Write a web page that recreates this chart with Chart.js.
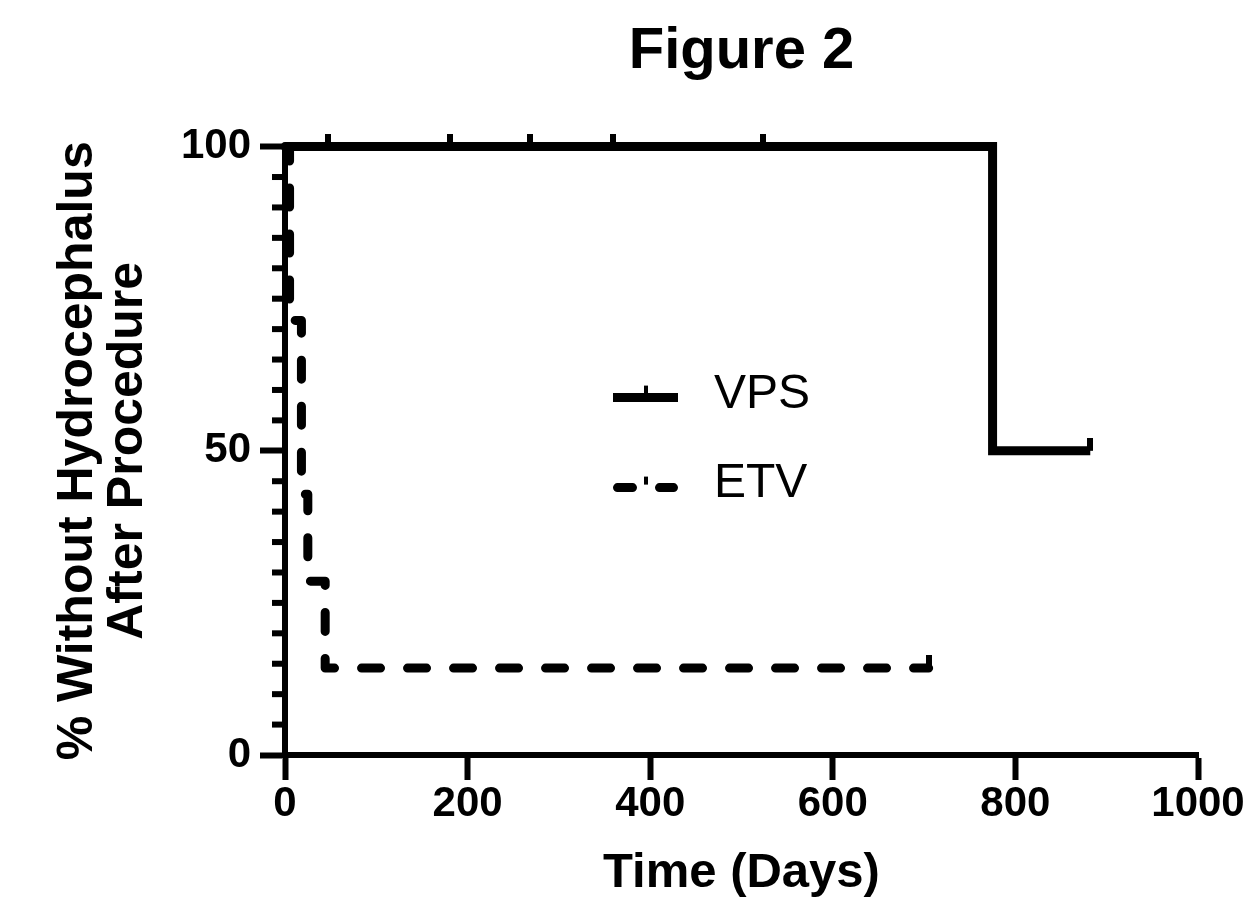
<!DOCTYPE html>
<html>
<head>
<meta charset="utf-8">
<script src="https://cdn.jsdelivr.net/npm/chart.js@4"></script>
<style>
  html, body { margin: 0; padding: 0; background: #ffffff; }
  #wrap { width: 1248px; height: 911px; }
</style>
</head>
<body>
<div id="wrap"><canvas id="c" width="1248" height="911"></canvas></div>
<script>
// ---- data ----
const chartTitle = 'Figure 2';
const xTitle = 'Time (Days)';
const yTitle = ['% Without Hydrocephalus', 'After Procedure'];
const seriesNames = ['VPS', 'ETV'];

const vpsTimes = [0, 775, 882];
const vpsSurvival = [100, 50, 50];
const vpsCensorTimes = [47, 181, 268, 359, 524, 882];
const vpsCensorSurvival = [100, 100, 100, 100, 100, 50];

const etvTimes = [0, 5, 18, 25, 44, 705];
const etvSurvival = [100, 71.43, 42.86, 28.57, 14.29, 14.29];
const etvCensorTimes = [705];
const etvCensorSurvival = [14.29];

const xTickValues = [0, 200, 400, 600, 800, 1000];
const yTickValues = [0, 50, 100];

// ---- helpers ----
const FONT = "'Liberation Sans', Arial, sans-serif";
const pts = (xs, ys) => xs.map((x, i) => ({ x: x, y: ys[i] }));

// censor tick: vertical bar rising above the point
const censorMark = (function () {
  const c = document.createElement('canvas');
  c.width = 6; c.height = 26;
  const g = c.getContext('2d');
  g.fillStyle = '#000';
  g.fillRect(0, 0, 6, 13);
  return c;
})();

const minorTicks = {
  id: 'minorTicks',
  afterDraw(chart) {
    const s = chart.scales.y;
    const ctx = chart.ctx;
    ctx.save();
    ctx.fillStyle = '#000';
    for (let v = s.min + 5; v < s.max; v += 5) {
      if (v % 50 === 0) continue;
      const y = s.getPixelForValue(v);
      ctx.fillRect(s.right - 13, y - 3, 13, 6);
    }
    ctx.restore();
  }
};

const kmLegend = {
  id: 'kmLegend',
  afterDraw(chart) {
    const ctx = chart.ctx;
    const a = chart.chartArea;
    const rows = chart.data.datasets.filter(d => d.legendRow !== undefined);
    ctx.save();
    rows.forEach(ds => {
      const cy = a.top + (ds.legendRow === 0 ? 251 : 341);
      const x0 = a.left + 328, x1 = a.left + 393;
      ctx.strokeStyle = ds.borderColor;
      ctx.lineWidth = ds.borderWidth;
      if (ds.borderDash && ds.borderDash.length) {
        ctx.lineCap = 'round';
        ctx.setLineDash([15, 27]);
        ctx.beginPath();
        ctx.moveTo(x0 + 4.5, cy);
        ctx.lineTo(x1 - 4.5, cy);
        ctx.stroke();
        ctx.setLineDash([]);
        ctx.fillStyle = ds.borderColor;
        ctx.fillRect((x0 + x1) / 2 - 1.5, cy - 11, 4, 8);
      } else {
        ctx.lineCap = 'butt';
        ctx.beginPath();
        ctx.moveTo(x0, cy);
        ctx.lineTo(x1, cy);
        ctx.stroke();
        ctx.fillStyle = ds.borderColor;
        ctx.fillRect((x0 + x1) / 2 - 1.5, cy - 12, 4, 10);
      }
      ctx.fillStyle = '#000';
      ctx.font = '48px ' + FONT;
      ctx.textAlign = 'left';
      ctx.textBaseline = 'alphabetic';
      ctx.fillText(ds.label, a.left + 429, cy + (ds.legendRow === 0 ? 10 : 9));
    });
    ctx.restore();
  }
};

new Chart(document.getElementById('c'), {
  type: 'line',
  data: {
    datasets: [
      {
        label: seriesNames[0], legendRow: 0,
        data: pts(vpsTimes, vpsSurvival),
        stepped: 'before',
        borderColor: '#000', borderWidth: 9,
        borderCapStyle: 'butt', borderJoinStyle: 'miter',
        pointRadius: 0, fill: false, clip: false, order: 2
      },
      {
        label: seriesNames[1], legendRow: 1,
        data: pts(etvTimes, etvSurvival),
        stepped: 'before',
        borderColor: '#000', borderWidth: 9,
        borderDash: [19, 27], borderCapStyle: 'round', borderJoinStyle: 'round',
        pointRadius: 0, fill: false, clip: false, order: 2
      },
      {
        label: seriesNames[0] + ' censored',
        type: 'scatter',
        data: pts(vpsCensorTimes, vpsCensorSurvival),
        pointStyle: censorMark, pointRadius: 6, showLine: false,
        clip: false, order: 1
      },
      {
        label: seriesNames[1] + ' censored',
        type: 'scatter',
        data: pts(etvCensorTimes, etvCensorSurvival),
        pointStyle: censorMark, pointRadius: 6, showLine: false,
        clip: false, order: 1
      }
    ]
  },
  options: {
    responsive: false,
    animation: false,
    devicePixelRatio: 1,
    layout: { padding: { left: 0, right: 50, top: 0, bottom: 0 } },
    plugins: {
      legend: { display: false },
      tooltip: { enabled: false },
      title: {
        display: true,
        text: chartTitle,
        fullSize: false,
        color: '#000',
        font: { family: FONT, size: 58, weight: 'bold', lineHeight: 1.2 },
        padding: { top: 17, bottom: 60 }
      }
    },
    scales: {
      x: {
        type: 'linear',
        min: 0, max: 1000,
        afterBuildTicks: s => { s.ticks = xTickValues.map(v => ({ value: v })); },
        afterFit: s => { s.height = 156; },
        border: { display: true, color: '#000', width: 6 },
        grid: { drawOnChartArea: false, drawTicks: true, tickLength: 25, tickWidth: 6, tickColor: '#000' },
        ticks: {
          color: '#000', padding: -1,
          font: { family: FONT, size: 42, weight: 'bold' },
          maxRotation: 0,
          callback: v => String(v)
        },
        title: {
          display: true, text: xTitle, color: '#000',
          font: { family: FONT, size: 49, weight: 'bold', lineHeight: 1.2 },
          padding: { top: 0, bottom: 8 }
        }
      },
      y: {
        type: 'linear',
        min: 0, max: 100,
        afterBuildTicks: s => { s.ticks = yTickValues.map(v => ({ value: v })); },
        afterFit: s => { s.width = 285; },
        border: { display: true, color: '#000', width: 6 },
        grid: { drawOnChartArea: false, drawTicks: true, tickLength: 25, tickWidth: 6, tickColor: '#000' },
        ticks: {
          color: '#000', padding: 9,
          font: { family: FONT, size: 42, weight: 'bold' },
          callback: v => String(v)
        },
        title: {
          display: true, text: yTitle, color: '#000',
          font: { family: FONT, size: 50, weight: 'bold', lineHeight: 1.0 },
          padding: { top: 53, bottom: 0 }
        }
      }
    }
  },
  plugins: [minorTicks, kmLegend]
});
</script>
</body>
</html>
